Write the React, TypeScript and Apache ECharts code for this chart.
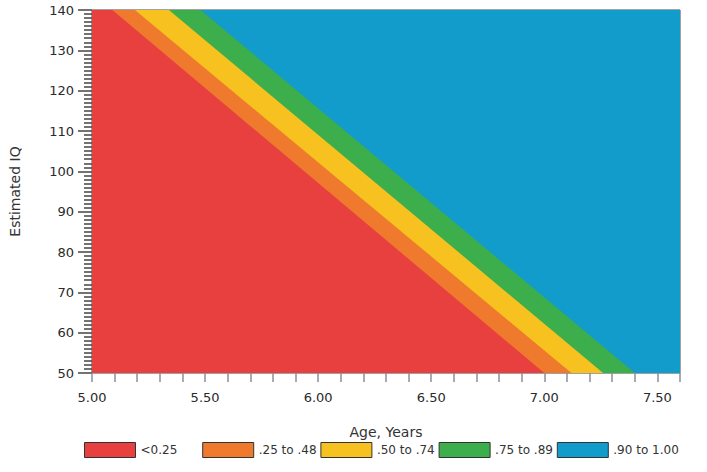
import React, { useEffect, useRef } from "react";
import * as echarts from "echarts";

// Probability bands of the estimated-IQ / age plane
const bandNames = ["<0.25", ".25 to .48", ".50 to .74", ".75 to .89", ".90 to 1.00"];
const bandColors = ["#E8403F", "#EF7A2E", "#F7C21F", "#3CAE4B", "#119CCC"];

// Age (years) where each band boundary crosses IQ 140 and IQ 50
const boundaryAgeAtTop = [5.09, 5.19, 5.34, 5.48];
const boundaryAgeAtBottom = [7.0, 7.12, 7.26, 7.4];

const ageMin = 5.0;
const ageMax = 7.6;
const iqMin = 50;
const iqMax = 140;

const FONT = "DejaVu Sans";

export default function App() {
  const ref = useRef<HTMLDivElement>(null);

  useEffect(() => {
    if (!ref.current) return;
    const chart = echarts.init(ref.current, undefined, { renderer: "svg" });

    // Background band covers the whole plane; each lower band is the area
    // under its boundary line, drawn on top in order.
    const series: any[] = [];
    series.push({
      name: bandNames[4],
      type: "line",
      data: [
        [ageMin, iqMax],
        [ageMax, iqMax],
      ],
      showSymbol: false,
      lineStyle: { width: 0 },
      itemStyle: { color: bandColors[4] },
      areaStyle: { color: bandColors[4], opacity: 1, origin: "start" },
    });
    for (let i = 3; i >= 0; i--) {
      series.push({
        name: bandNames[i],
        type: "line",
        data: [
          [ageMin, iqMax],
          [boundaryAgeAtTop[i], iqMax],
          [boundaryAgeAtBottom[i], iqMin],
        ],
        showSymbol: false,
        lineStyle: { width: 0 },
        itemStyle: { color: bandColors[i] },
        areaStyle: { color: bandColors[i], opacity: 1, origin: "start" },
      });
    }

    // One legend block per band, evenly spaced along the bottom
    const legends = bandNames.map((name, i) => ({
      data: [name],
      left: 84 + 118.2 * i,
      top: 442,
      icon: "rect",
      itemWidth: 51,
      itemHeight: 15,
      padding: 0,
      z: 10 - i,
      itemStyle: { borderColor: "#333", borderWidth: 1 },
      textStyle: { fontFamily: FONT, fontSize: 12, color: "#333" },
      selectedMode: false,
    }));

    chart.setOption({
      animation: false,
      textStyle: { fontFamily: FONT, color: "#333" },
      grid: {
        left: 88,
        right: 27,
        top: 10,
        bottom: 99,
        show: true,
        borderColor: "#444",
        borderWidth: 1,
        backgroundColor: "transparent",
      },
      xAxis: {
        type: "value",
        min: ageMin,
        max: ageMax,
        interval: 0.1,
        name: "Age, Years",
        nameLocation: "middle",
        nameGap: 52,
        nameTextStyle: { fontFamily: FONT, fontSize: 14, color: "#333" },
        axisLine: { show: false },
        axisTick: { show: true, length: 9, lineStyle: { color: "#8a8f9a", width: 1.5 } },
        splitLine: { show: false },
        axisLabel: {
          margin: 18,
          fontFamily: FONT,
          fontSize: 13,
          color: "#2a2a2a",
          formatter: (v: number) =>
            Math.abs(v * 2 - Math.round(v * 2)) < 1e-6 ? v.toFixed(2) : "",
        },
      },
      yAxis: {
        type: "value",
        min: iqMin,
        max: iqMax,
        interval: 10,
        name: "Estimated IQ",
        nameLocation: "middle",
        nameGap: 70,
        nameTextStyle: { fontFamily: FONT, fontSize: 14, color: "#333" },
        axisLine: { show: false },
        axisTick: { show: true, length: 14, lineStyle: { color: "#444", width: 1.5 } },
        minorTick: { show: true, splitNumber: 10, length: 8, lineStyle: { color: "#444", width: 1.5 } },
        splitLine: { show: false },
        axisLabel: { margin: 18, fontFamily: FONT, fontSize: 13, color: "#2a2a2a" },
      },
      legend: legends,
      series,
    });

    return () => chart.dispose();
  }, []);

  return (
    <div
      ref={ref}
      style={{ position: "fixed", left: 0, top: 0, width: 707, height: 472, background: "#fff" }}
    />
  );
}
